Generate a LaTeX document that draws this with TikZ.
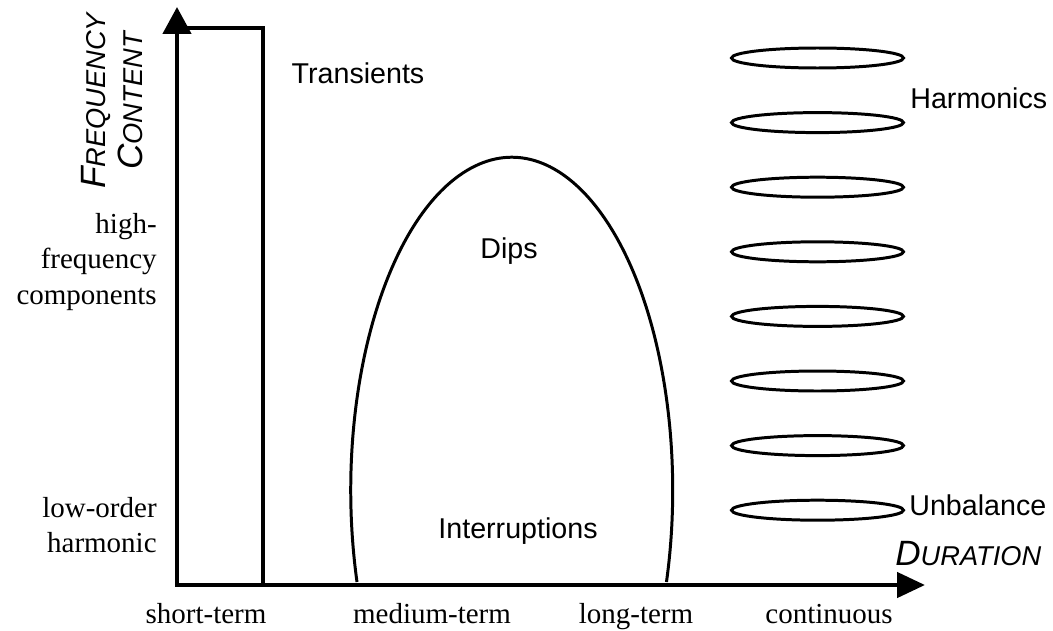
\documentclass[tikz,border=0pt]{standalone}
\usepackage{fontspec}
\setmainfont{Liberation Serif}
\setsansfont{Liberation Sans}
\usepackage{tikz}
\usetikzlibrary{arrows.meta}
\newcommand{\capsword}[2]{{\fontsize{20}{21}\selectfont #1}{\fontsize{15.5}{21}\selectfont #2}}

\begin{document}
\begin{tikzpicture}[
  x=0.02cm, y=0.02cm,
  axis/.style={line width=2.6pt,{Triangle[length=0.54cm,width=0.56cm]}-{Triangle[length=0.56cm,width=0.5cm]}},
  band/.style={line width=1.7pt},
  sanslabel/.style={font=\sffamily\fontsize{16.3}{19.6}\selectfont,inner sep=0pt},
  seriflabel/.style={font=\fontsize{16.5}{20.4}\selectfont,inner sep=0pt,align=right},
  axislabel/.style={font=\sffamily\itshape\fontsize{20}{21}\selectfont,inner sep=0pt,align=center}
]
  \useasboundingbox (0,0) rectangle (1053,630);
  \coordinate (origin) at (177,45);
  \coordinate (ytip) at (177,623);
  \coordinate (xtip) at (925,45);

  % axes and the short-term bar
  \draw[line width=2pt] (177,602) -- (263,602) -- (263,45);
  \draw[axis] (ytip) -- (origin) -- (xtip);

  % dips / interruptions
  \draw[band] (357,48) arc[start angle=196,end angle=-16,x radius=3.22cm,y radius=6.66cm];

  % harmonics
  \foreach \i in {0,...,7}
    \draw[band] (817.5,{572-64.6*\i}) ellipse[x radius=1.72cm,y radius=0.2cm];

  \node[sanslabel,anchor=base] (transients) at (358,546) {Transients};
  \node[sanslabel,anchor=base west] (harmonics) at (910,521) {Harmonics};
  \node[sanslabel,anchor=base west] (unbalance) at (909,115) {Unbalance};
  \node[sanslabel,anchor=base] (dips) at (509,372) {Dips};
  \node[sanslabel,anchor=base] (interruptions) at (518,92) {Interruptions};

  \node[axislabel,anchor=base west] (duration) at (895,65) {\capsword{D}{URATION}};
  \node[axislabel,rotate=90] (freq) at (112,529) {\capsword{F}{REQUENCY}\\\capsword{C}{ONTENT}};

  \node[seriflabel,anchor=east] (high) at (157,368) {high-\\frequency\\components};
  \node[seriflabel,anchor=east] (low) at (157,105) {low-order\\harmonic};

  \node[seriflabel,anchor=base] (short) at (206,7) {short-term};
  \node[seriflabel,anchor=base] (medium) at (432,7) {medium-term};
  \node[seriflabel,anchor=base] (long) at (636,7) {long-term};
  \node[seriflabel,anchor=base] (cont) at (829,7) {continuous};
\end{tikzpicture}
\end{document}
